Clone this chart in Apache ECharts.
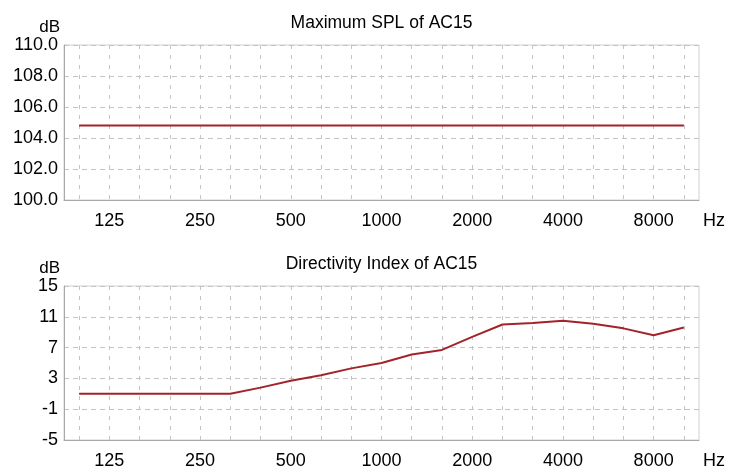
<!DOCTYPE html>
<html>
<head>
<meta charset="utf-8">
<title>AC15</title>
<script src="https://cdn.jsdelivr.net/npm/echarts@6/dist/echarts.min.js"></script>
<style>
  html, body { margin: 0; padding: 0; background: #fff; }
  #chart { width: 732px; height: 473px; }
</style>
</head>
<body>
<div id="chart"></div>
<script>
// 1/3 octave bands, 100 Hz .. 10 kHz
const freqs = ['100', '125', '160', '200', '250', '315', '400', '500', '630', '800', '1000',
  '1250', '1600', '2000', '2500', '3150', '4000', '5000', '6300', '8000', '10000']
// labelled bands
const freqLabels = ['125', '250', '500', '1000', '2000', '4000', '8000']

// Maximum SPL (dB)
const maxSpl = [104.8, 104.8, 104.8, 104.8, 104.8, 104.8, 104.8, 104.8, 104.8, 104.8, 104.8,
  104.8, 104.8, 104.8, 104.8, 104.8, 104.8, 104.8, 104.8, 104.8, 104.8]
// Directivity index (dB)
const dirIndex = [1.0, 1.0, 1.0, 1.0, 1.0, 1.0, 1.8, 2.7, 3.4, 4.3, 5.0,
  6.1, 6.7, 8.4, 10.0, 10.2, 10.5, 10.1, 9.5, 8.6, 9.6]

const titles = ['Maximum SPL of AC15', 'Directivity Index of AC15']

const FONT = 'Liberation Sans, Arial, sans-serif'
const lineColor = '#a3232b'

const chart = echarts.init(document.getElementById('chart'))

function xAxisFor(gridIndex) {
  return {
    type: 'category',
    gridIndex: gridIndex,
    data: freqs,
    boundaryGap: true,
    name: 'Hz',
    nameLocation: 'end',
    nameGap: 4,
    nameTextStyle: { color: '#000', fontSize: 18, fontFamily: FONT, verticalAlign: 'top', padding: [12, 0, 0, 0] },
    axisLine: { onZero: false, lineStyle: { color: '#a8a8a8', width: 1 } },
    axisTick: { show: false },
    axisLabel: {
      color: '#000',
      fontSize: 18,
      fontFamily: FONT,
      margin: 12,
      interval: 0,
      formatter: v => (freqLabels.indexOf(v) >= 0 ? v : '')
    },
    splitLine: {
      show: true,
      interval: 0,
      alignWithLabel: true,
      lineStyle: { color: '#c4c4c4', type: [4, 6], width: 1 }
    }
  }
}

function yAxisFor(gridIndex, min, max, interval, digits) {
  return {
    type: 'value',
    gridIndex: gridIndex,
    min: min,
    max: max,
    interval: interval,
    name: 'dB',
    nameLocation: 'end',
    nameGap: 9,
    nameTextStyle: { color: '#000', fontSize: 17, fontFamily: FONT, align: 'right', padding: [0, 4, 0, 0] },
    axisLine: { show: true, onZero: false, lineStyle: { color: '#a8a8a8', width: 1 } },
    axisTick: { show: false },
    axisLabel: {
      color: '#000',
      fontSize: 18,
      fontFamily: FONT,
      margin: 6,
      formatter: v => v.toFixed(digits)
    },
    splitLine: {
      show: true,
      lineStyle: { color: '#c4c4c4', type: [5, 4], width: 1 }
    }
  }
}

const option = {
  backgroundColor: '#fff',
  animation: false,
  title: [
    {
      text: titles[0], left: 381.5, top: 14, padding: 0, textAlign: 'center',
      textStyle: { color: '#000', fontSize: 17.5, fontWeight: 'normal', fontFamily: FONT }
    },
    {
      text: titles[1], left: 381.5, top: 255, padding: 0, textAlign: 'center',
      textStyle: { color: '#000', fontSize: 17.5, fontWeight: 'normal', fontFamily: FONT }
    }
  ],
  grid: [
    { left: 64, right: 33, top: 45, height: 155, show: true, borderColor: '#d0d0d0', borderWidth: 1, backgroundColor: '#fff' },
    { left: 64, right: 33, top: 286, height: 154, show: true, borderColor: '#d0d0d0', borderWidth: 1, backgroundColor: '#fff' }
  ],
  xAxis: [xAxisFor(0), xAxisFor(1)],
  yAxis: [
    yAxisFor(0, 100, 110, 2, 1),
    yAxisFor(1, -5, 15, 4, 0)
  ],
  series: [
    {
      name: titles[0],
      type: 'line',
      xAxisIndex: 0,
      yAxisIndex: 0,
      data: maxSpl,
      showSymbol: false,
      lineStyle: { color: lineColor, width: 2 },
      itemStyle: { color: lineColor }
    },
    {
      name: titles[1],
      type: 'line',
      xAxisIndex: 1,
      yAxisIndex: 1,
      data: dirIndex,
      showSymbol: false,
      lineStyle: { color: lineColor, width: 2 },
      itemStyle: { color: lineColor }
    }
  ]
}

chart.setOption(option)
</script>
</body>
</html>
